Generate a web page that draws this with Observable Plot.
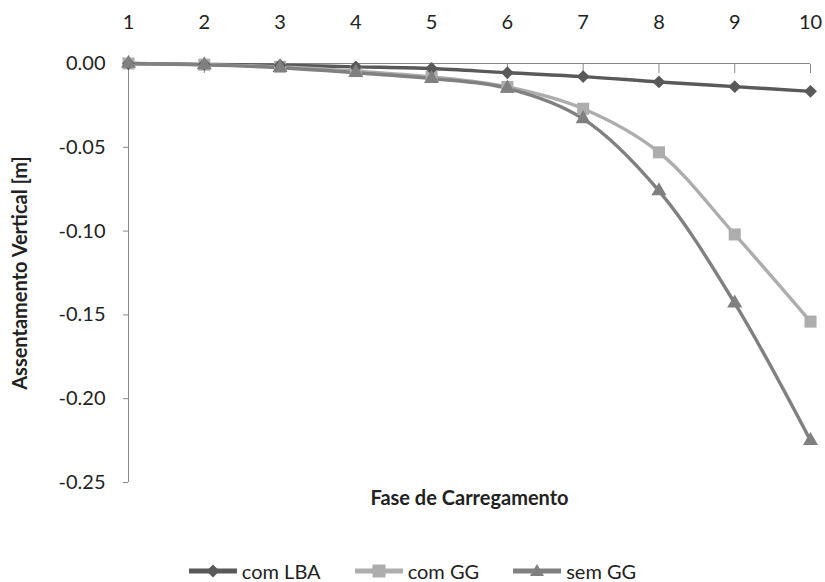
<!DOCTYPE html>
<html>
<head>
<meta charset="utf-8">
<script src="https://cdn.jsdelivr.net/npm/d3@7"></script>
<script src="https://cdn.jsdelivr.net/npm/@observablehq/plot@0.6"></script>
<style>
  body { margin: 0; background: #fff; font-family: Lato, "Open Sans", sans-serif; }
  #legend { display: flex; justify-content: center; gap: 34px; margin-top: 29px; font-size: 20px; color: #222; }
  #legend .item { display: flex; align-items: center; gap: 5px; }
</style>
</head>
<body>
<div id="chart"></div>
<div id="legend"></div>
<script>
const phases = [1, 2, 3, 4, 5, 6, 7, 8, 9, 10];
const seriesNames = ["com LBA", "com GG", "sem GG"];
const comLBA = [0, -0.0005, -0.001, -0.002, -0.003, -0.0055, -0.0078, -0.011, -0.0138, -0.0166];
const comGG  = [0, -0.0007, -0.002, -0.0045, -0.008, -0.014, -0.027, -0.053, -0.102, -0.154];
const semGG  = [0, -0.0008, -0.0025, -0.0055, -0.009, -0.0148, -0.033, -0.076, -0.143, -0.225];
const yTicks = [0, -0.05, -0.10, -0.15, -0.20, -0.25];
const xTitle = "Fase de Carregamento";
const yTitle = "Assentamento Vertical [m]";

const colors = ["#595959", "#adadad", "#808080"];
const symbols = ["diamond2", "square", "triangle"];
const sizes = [5.8, 6.8, 5.6];

const values = [comLBA, comGG, semGG];
const data = [];
seriesNames.forEach((s, i) => phases.forEach((p, j) => data.push({series: s, phase: p, value: values[i][j]})));

const chart = Plot.plot({
  width: 825,
  height: 530,
  marginLeft: 128,
  marginRight: 15,
  marginTop: 63,
  marginBottom: 48,
  style: {fontFamily: "Lato, 'Open Sans', sans-serif", fontSize: "20px", color: "#222", background: "#fff"},
  x: {domain: [1, 10]},
  y: {domain: [-0.25, 0]},
  r: {type: "identity"},
  color: {domain: seriesNames, range: colors},
  symbol: {domain: seriesNames, range: symbols},
  marks: [
    Plot.ruleY([0], {stroke: "#888", strokeWidth: 1}),
    Plot.ruleX([1], {stroke: "#888", strokeWidth: 1}),
    Plot.axisY({ticks: yTicks, tickFormat: d => d.toFixed(2), tickSize: 5, tickPadding: 18, stroke: "#888", fill: "#222", fontSize: 20, label: null}),
    Plot.axisX({anchor: "top", ticks: phases, tickFormat: d => String(d), tickSize: 0, tickPadding: 35, fill: "#222", fontSize: 20, label: null}),
    Plot.axisX({anchor: "top", ticks: phases, tickFormat: () => "", tickSize: -9, stroke: "#888", label: null}),
    Plot.line(data, {x: "phase", y: "value", z: "series", stroke: "series", strokeWidth: 3.4, curve: "catmull-rom"}),
    Plot.dot(data, {x: "phase", y: "value", symbol: "series", fill: "series", r: d => sizes[seriesNames.indexOf(d.series)]}),
    Plot.text([xTitle], {frameAnchor: "bottom", dy: 22, fontWeight: "bold", fontSize: 20, fill: "#222"}),
    Plot.text([yTitle], {frameAnchor: "left", dx: -108, rotate: -90, textAnchor: "middle", fontWeight: "bold", fontSize: 20, fill: "#222"})
  ]
});
document.getElementById("chart").appendChild(chart);

const legend = document.getElementById("legend");
seriesNames.forEach((s, i) => {
  const item = document.createElement("div");
  item.className = "item";
  let marker;
  if (symbols[i] === "diamond2") marker = `<path d="M24,4.5L30.5,11L24,17.5L17.5,11Z" fill="${colors[i]}"/>`;
  else if (symbols[i] === "square") marker = `<rect x="17.5" y="4.5" width="13" height="13" fill="${colors[i]}"/>`;
  else marker = `<path d="M24,4L31,16L17,16Z" fill="${colors[i]}"/>`;
  item.innerHTML = `<svg width="48" height="22"><line x1="0" x2="48" y1="11" y2="11" stroke="${colors[i]}" stroke-width="5"/>${marker}</svg><span>${s}</span>`;
  legend.appendChild(item);
});
</script>
</body>
</html>
